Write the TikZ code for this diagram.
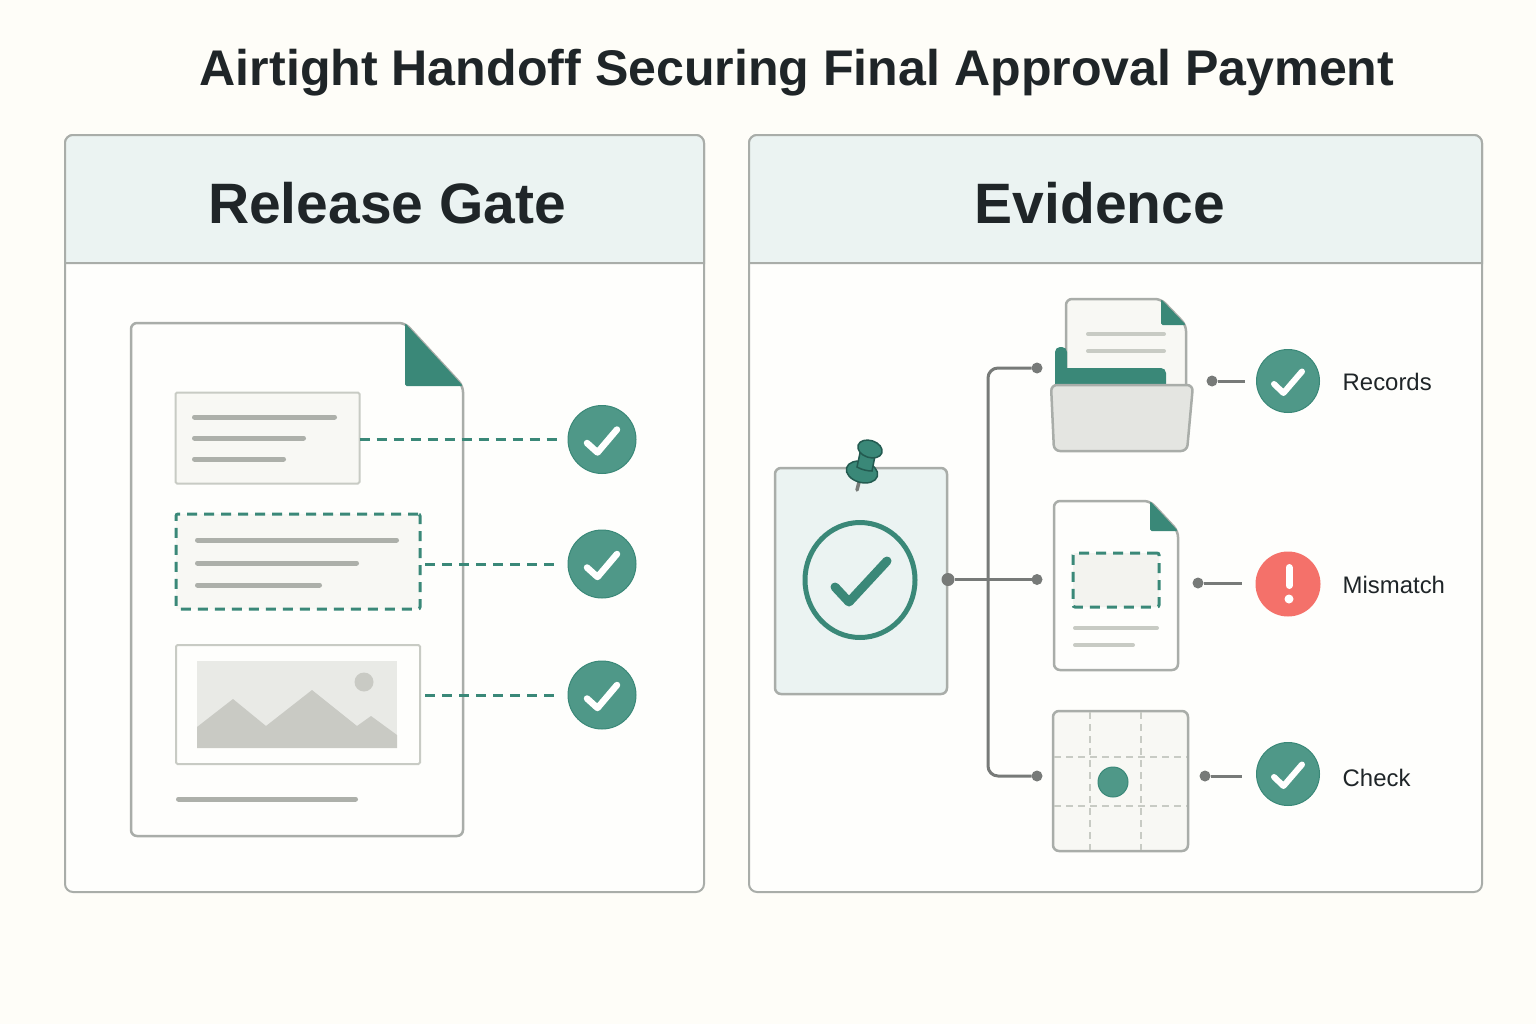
\documentclass[tikz,border=0pt]{standalone}
\usepackage{fontspec}
\setmainfont{Liberation Sans}
\newlength\px
\setlength\px{0.01cm}
\definecolor{pagecol}{HTML}{FEFDF8}
\definecolor{panelcol}{HTML}{FEFEFC}
\definecolor{headcol}{HTML}{EBF3F2}
\definecolor{edgecol}{HTML}{A9ADA9}
\definecolor{softcol}{HTML}{C8CBC4}
\definecolor{barcol}{HTML}{ADB0AA}
\definecolor{paleboxcol}{HTML}{F8F8F4}
\definecolor{photocol}{HTML}{E9EAE6}
\definecolor{hillcol}{HTML}{C9CAC4}
\definecolor{tealcol}{HTML}{3A8878}
\definecolor{pinedgecol}{HTML}{235A50}
\definecolor{checkcol}{HTML}{4F9888}
\definecolor{redcol}{HTML}{F4716A}
\definecolor{linkcol}{HTML}{777A78}
\definecolor{inkcol}{HTML}{1F2528}
\tikzset{
  my panel/.style={draw=edgecol, line width=2\px, fill=panelcol, rounded corners=8\px},
  my head/.style={draw=edgecol, line width=2\px, fill=headcol},
  my heading/.style={text=inkcol, font=\fontsize{16.2}{20}\bfseries\selectfont, inner sep=0pt},
  my title/.style={text=inkcol, font=\fontsize{14.25}{17}\bfseries\selectfont, inner sep=0pt},
  my label/.style={text=inkcol, anchor=west, font=\fontsize{6.8}{9}\selectfont, inner sep=0pt},
  my paper/.style={draw=edgecol, line width=2.5\px, fill=panelcol, rounded corners=6\px},
  my fold/.style={fill=tealcol, rounded corners=1.5\px},
  my box/.style={draw=softcol, line width=2\px, fill=paleboxcol, rounded corners=1.5\px, rectangle, inner sep=0pt, outer sep=0pt},
  my dashbox/.style={draw=tealcol, line width=3\px, fill=paleboxcol, rounded corners=2\px, rectangle, inner sep=0pt, outer sep=0pt, dash pattern=on 10\px off 7\px},
  my bar/.style={draw=barcol, line width=5\px, line cap=round, shorten >=2.5\px, shorten <=2.5\px},
  my softbar/.style={draw=softcol, line width=4\px, line cap=round, shorten >=2\px, shorten <=2\px},
  my check/.style={circle, fill=checkcol, draw=tealcol, line width=1\px, inner sep=0pt, outer sep=0pt, minimum size=#1\px},
  my alert/.style={circle, fill=redcol, inner sep=0pt, outer sep=0pt, minimum size=#1\px},
  my dot/.style={circle, fill=linkcol, inner sep=0pt, outer sep=0pt, minimum size=#1\px},
  my tick/.style={draw=white, line width=6.5\px, line cap=round, line join=round},
  my link/.style={draw=linkcol, line width=3\px},
  my dashlink/.style={draw=tealcol, line width=3\px, dash pattern=on 10\px off 7\px, shorten >=10\px},
  my grid/.style={draw=softcol, line width=1.8\px, dash pattern=on 7\px off 5\px},
  my pin/.style={fill=tealcol, draw=pinedgecol, line width=1.5\px},
}
\begin{document}
\begin{tikzpicture}[x=0.01cm,y=-0.01cm]
\useasboundingbox (0,0) rectangle (1536,1024);
\fill [pagecol] (0,0) rectangle (1536,1024);
\node [my title] (title) at (797,73) {Airtight Handoff Securing Final Approval Payment};
\draw [my panel] (65,135) rectangle (704,892);
\draw [my head] (65,263) [rounded corners=8\px] -- (65,135) -- (704,135) [sharp corners] -- (704,263) -- cycle;
\node [my heading] (gatehead) at (387,203) {Release Gate};
\draw [my panel] (749,135) rectangle (1482,892);
\draw [my head] (749,263) [rounded corners=8\px] -- (749,135) -- (1482,135) [sharp corners] -- (1482,263) -- cycle;
\node [my heading] (evidencehead) at (1100,203) {Evidence};
\draw [my paper] (131,323) -- (405,323) -- (463,386) -- (463,836) -- (131,836) -- cycle;
\fill [my fold] (405,323) -- (463,386) -- (405,386) -- cycle;
\node [my box, minimum width=184\px, minimum height=91\px] (textbox) at (267.5,438) {};
\draw [my bar] (192,417) -- (337,417);
\draw [my bar] (192,438) -- (306,438);
\draw [my bar] (192,459) -- (286,459);
\node [my dashbox, minimum width=244\px, minimum height=95\px] (dashbox) at (298,561.5) {};
\draw [my bar] (195,540) -- (399,540);
\draw [my bar] (195,563) -- (359,563);
\draw [my bar] (195,585) -- (322,585);
\node [my box, fill=panelcol, minimum width=244\px, minimum height=119\px] (imagebox) at (298,704.5) {};
\fill [photocol] (197,661) rectangle (397,748);
\fill [hillcol] (197,727) -- (233,699) -- (266,726) -- (312,690) -- (357,726) -- (371,716) -- (397,735) -- (397,748) -- (197,748) -- cycle;
\fill [hillcol] (364,682) circle (9.5);
\draw [my bar] (176,799) -- (358,799);
\node [my check=68] (gatecheck1) at (602,439.5) {};
\node [my check=68] (gatecheck2) at (602,564) {};
\node [my check=68] (gatecheck3) at (602,695) {};
\draw [my tick] (587,443) -- (597.5,452.5) -- (617,429.5);
\draw [my tick] (587,567.5) -- (597.5,577) -- (617,554);
\draw [my tick] (587,698.5) -- (597.5,708) -- (617,685);
\draw [my dashlink] (textbox.east |- gatecheck1.west) -- (gatecheck1.west);
\draw [my dashlink, shorten <=5\px] (dashbox.east |- gatecheck2.west) -- (gatecheck2.west);
\draw [my dashlink, shorten <=5\px] (imagebox.east |- gatecheck3.west) -- (gatecheck3.west);
\node [my box, draw=edgecol, line width=2.5\px, fill=headcol, rounded corners=6\px, minimum width=172\px, minimum height=226\px] (card) at (861,581) {};
\draw [tealcol, line width=5\px] (860,580) ellipse (55 and 57.5);
\draw [tealcol, line width=9\px, line cap=round, line join=round] (835,587) -- (849,602) -- (887,561);
\draw [linkcol, line width=3.5\px, line cap=round] (859,482) -- (857,490);
\draw [my pin, rotate around={-15:(862,472)}] (862,472) ellipse (16 and 10.5);
\draw [my pin] (860,453) -- (857,467) .. controls (862,470) and (868,471) .. (872,471) -- (875,456) -- cycle;
\draw [my pin, rotate around={-18:(870,449)}] (870,449) ellipse (12.5 and 8.5);
\node [my dot=13] (carddot) at (948,579.5) {};
\node [my dot=11] (recordsin) at (1037,368) {};
\node [my dot=11] (mismatchin) at (1037,579.5) {};
\node [my dot=11] (checkin) at (1037,776) {};
\draw [my link, rounded corners=10\px] (recordsin) -- (988,368) -- (988,776) -- (checkin);
\draw [my link] (carddot) -- (mismatchin);
\draw [my paper, fill=paleboxcol] (1066,385) -- (1066,299) -- (1161,299) -- (1186,325) -- (1186,385);
\fill [my fold] (1161,299) -- (1186,325) -- (1161,325) -- cycle;
\draw [my softbar] (1086,334) -- (1166,334);
\draw [my softbar] (1086,351) -- (1166,351);
\fill [tealcol] (1055,390) [rounded corners=5\px] -- (1055,347) -- (1067,347) [sharp corners] -- (1067,368) [rounded corners=5\px] -- (1166,368) [sharp corners] -- (1166,390) -- cycle;
\draw [my paper, fill=black!2!photocol] (1051,385) -- (1193,385) -- (1187,451) -- (1054,451) -- cycle;
\draw [my paper] (1054,501) -- (1150,501) -- (1178,531) -- (1178,670) -- (1054,670) -- cycle;
\fill [my fold] (1150,501) -- (1178,531) -- (1150,531) -- cycle;
\node [my dashbox, fill=black!2!paleboxcol, minimum width=86\px, minimum height=54\px] (sheetbox) at (1116,580) {};
\draw [my softbar] (1073,628) -- (1159,628);
\draw [my softbar] (1073,645) -- (1135,645);
\node [my box, draw=edgecol, line width=2.5\px, rounded corners=6\px, minimum width=135\px, minimum height=140\px] (gridbox) at (1120.5,781) {};
\draw [my grid] (1090,712) -- (1090,850);
\draw [my grid] (1141,712) -- (1141,850);
\draw [my grid] (1054,757) -- (1187,757);
\draw [my grid] (1054,806) -- (1187,806);
\node [my check=30] (griddot) at (1113,782) {};
\node [my dot=11] (recordsdot) at (1212,381) {};
\node [my dot=11] (mismatchdot) at (1198,583) {};
\node [my dot=11] (checkdot) at (1205,776) {};
\node [my check=63] (recordscheck) at (1288,381) {};
\node [my alert=65] (mismatchalert) at (1288,584) {};
\node [my check=63] (checkcheck) at (1288,774) {};
\draw [my tick, line width=6\px] (1274,384) -- (1283.5,393) -- (1302,371.5);
\draw [my tick, line width=6\px] (1274,777) -- (1283.5,786) -- (1302,764.5);
\draw [white, line width=7\px, line cap=round] (1289,567.5) -- (1289,585.5);
\fill [white] (1289,599) circle (4.5);
\draw [my link] (recordsdot) -- (1245,381) coordinate (recordsend);
\draw [my link] (mismatchdot) -- (1242,583) coordinate (mismatchend);
\draw [my link] (checkdot) -- (1242,776) coordinate (checkend);
\node [my label] (recordslabel) at (1342,382) {Records};
\node [my label] (mismatchlabel) at (1342,585) {Mismatch};
\node [my label] (checklabel) at (1342,778) {Check};
\end{tikzpicture}
\end{document}
